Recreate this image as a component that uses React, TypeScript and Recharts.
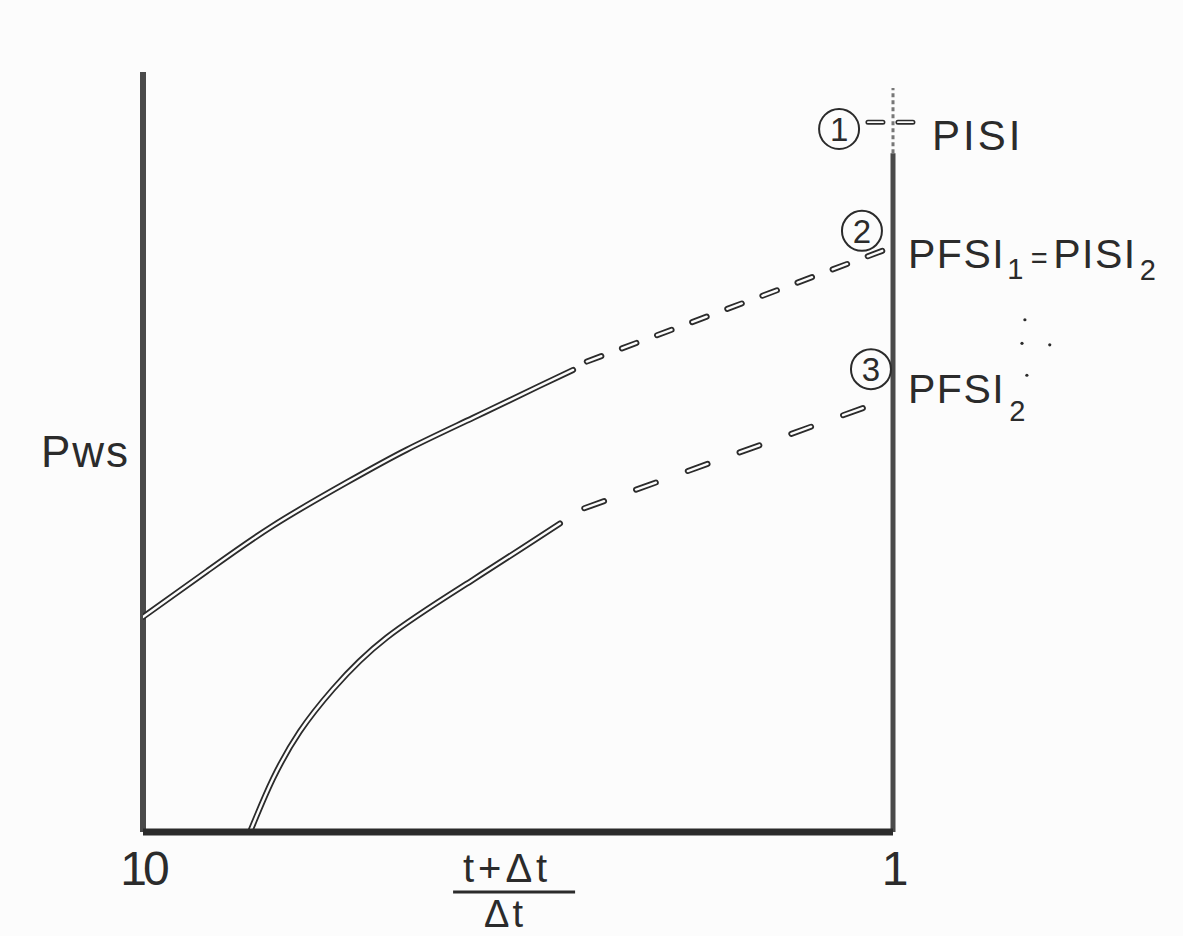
import { LineChart, Line, XAxis, YAxis, ReferenceLine, ReferenceDot } from "recharts";

// Horner plot: Pws against (t+Δt)/Δt on a reversed log axis (10 → 1)
const xTicks = [10, 1];

const upperRatio = [10, 8.22, 6.71, 5.35, 4.45, 3.63, 2.96, 2.67];
const upperPws = [28.3, 34.3, 40.3, 46.0, 50.3, 54.5, 58.7, 60.8];

const lowerRatio = [7.2, 6.71, 6.18, 5.58, 4.73, 3.63, 2.78];
const lowerPws = [0, 7.0, 13.2, 18.8, 25.6, 33.2, 40.6];

const upperExtRatio = [2.56, 1];
const upperExtPws = [61.9, 77.0];

const lowerExtRatio = [2.58, 1];
const lowerExtPws = [42.6, 57.2];

// extrapolated pressures read at (t+Δt)/Δt = 1
const PISI = 93.4;
const PFSI1 = 77.0;
const PFSI2 = 57.2;

const markerNames = ["1", "2", "3"];
const markerRatio = [1.18, 1.1, 1.07];
const markerPws = [92.5, 79.1, 60.9];

const ellipsisRatio = [0.667, 0.673, 0.618, 0.663];
const ellipsisPws = [67.4, 64.3, 64.1, 60.1];

const toRows = (xs: number[], ys: number[]) => xs.map((x, i) => ({ x, p: ys[i] }));

const upper = toRows(upperRatio, upperPws);
const lower = toRows(lowerRatio, lowerPws);
const upperExt = toRows(upperExtRatio, upperExtPws);
const lowerExt = toRows(lowerExtRatio, lowerExtPws);

const INK = "#2b2b2b";
const PAPER = "#fcfcfc";
const FONT = "'Liberation Sans', Arial, sans-serif";

function HollowLine({ data, dash }: { data: { x: number; p: number }[]; dash?: string }) {
  return [
    <Line
      key="o"
      data={data}
      dataKey="p"
      type="natural"
      stroke={INK}
      strokeWidth={6}
      strokeLinecap="round"
      strokeDasharray={dash}
      dot={false}
      activeDot={false}
      isAnimationActive={false}
    />,
    <Line
      key="i"
      data={data}
      dataKey="p"
      type="natural"
      stroke={PAPER}
      strokeWidth={2.4}
      strokeLinecap="round"
      strokeDasharray={dash}
      dot={false}
      activeDot={false}
      isAnimationActive={false}
    />,
  ];
}

const XTick = (props: any) => {
  const { x, y, payload } = props;
  return (
    <text x={x} y={y + 45} textAnchor="middle" fontSize={48} letterSpacing={-4} fill={INK} fontFamily={FONT}>
      {payload.value}
    </text>
  );
};

export default function App() {
  return (
    <div style={{ position: "absolute", left: 0, top: 0, width: 1183, height: 936, background: PAPER }}>
      <LineChart width={1183} height={936} margin={{ top: 72, right: 290, bottom: 0, left: 143 }}>
        <XAxis
          dataKey="x"
          type="number"
          scale="log"
          domain={[1, 10]}
          reversed
          allowDataOverflow
          ticks={xTicks}
          interval={0}
          tickLine={false}
          axisLine={{ stroke: INK, strokeWidth: 7 }}
          tick={XTick}
          height={104}
        />
        <YAxis hide type="number" domain={[0, 100]} allowDataOverflow />

        {/* frame */}
        <ReferenceLine x={10} stroke="#4a4a4a" strokeWidth={6} />
        <ReferenceLine
          segment={[{ x: 1, y: 0 }, { x: 1, y: 89.3 }]}
          stroke="#4a4a4a"
          strokeWidth={5}
          ifOverflow="visible"
        />
        <ReferenceLine
          segment={[{ x: 1, y: 89.3 }, { x: 1, y: 97.9 }]}
          stroke="#777"
          strokeWidth={3}
          strokeDasharray="4 3"
          ifOverflow="visible"
        />
        <ReferenceLine
          segment={[{ x: 10, y: 0 }, { x: 1, y: 0 }]}
          stroke={PAPER}
          strokeWidth={2.2}
          ifOverflow="visible"
        />

        {HollowLine({ data: upper })}
        {HollowLine({ data: lower })}
        {HollowLine({ data: upperExt, dash: "15.5 22" })}
        {HollowLine({ data: lowerExt, dash: "21 34" })}

        {/* PISI tick marks across the axis */}
        <ReferenceLine
          segment={[{ x: 1.08, y: PISI }, { x: 0.929, y: PISI }]}
          stroke={INK}
          strokeWidth={5}
          strokeLinecap="round"
          strokeDasharray="15 15"
          ifOverflow="visible"
        />
        <ReferenceLine
          segment={[{ x: 1.08, y: PISI }, { x: 0.929, y: PISI }]}
          stroke={PAPER}
          strokeWidth={1.8}
          strokeLinecap="round"
          strokeDasharray="15 15"
          ifOverflow="visible"
        />

        {markerNames.map((n, i) => (
          <ReferenceDot
            key={n}
            x={markerRatio[i]}
            y={markerPws[i]}
            ifOverflow="visible"
            shape={(p: any) => (
              <g>
                <circle cx={p.cx} cy={p.cy} r={20} fill="none" stroke={INK} strokeWidth={2} />
                <text x={p.cx} y={p.cy + 12} textAnchor="middle" fontSize={33} fill={INK} fontFamily={FONT}>
                  {n}
                </text>
              </g>
            )}
          />
        ))}

        <ReferenceDot
          x={1}
          y={PISI}
          ifOverflow="visible"
          shape={(p: any) => (
            <text x={p.cx + 39} y={p.cy + 28} fontSize={42} letterSpacing={3} fill={INK} fontFamily={FONT}>
              PISI
            </text>
          )}
        />
        <ReferenceDot
          x={1}
          y={PFSI1}
          ifOverflow="visible"
          shape={(p: any) => (
            <text x={p.cx + 15} y={p.cy + 21} fontSize={41} letterSpacing={1.5} fill={INK} fontFamily={FONT}>
              PFSI
              <tspan fontSize={29} dy={11} dx={2}>1</tspan>
              <tspan fontSize={29} dy={-11} dx={6}>=</tspan>
              <tspan dx={4}>PISI</tspan>
              <tspan fontSize={29} dy={12} dx={3}>2</tspan>
            </text>
          )}
        />
        <ReferenceDot
          x={1}
          y={PFSI2}
          ifOverflow="visible"
          shape={(p: any) => (
            <text x={p.cx + 15} y={p.cy + 6} fontSize={41} letterSpacing={1.5} fill={INK} fontFamily={FONT}>
              PFSI
              <tspan fontSize={29} dy={18} dx={4}>2</tspan>
            </text>
          )}
        />

        {ellipsisRatio.map((r, i) => (
          <ReferenceDot key={"e" + i} x={r} y={ellipsisPws[i]} r={1.6} fill={INK} stroke="none" ifOverflow="visible" />
        ))}

        {/* y label */}
        <ReferenceDot
          x={10}
          y={50.1}
          ifOverflow="visible"
          shape={(p: any) => (
            <text x={p.cx - 13} y={p.cy + 16} textAnchor="end" fontSize={44} letterSpacing={2} fill={INK} fontFamily={FONT}>
              Pws
            </text>
          )}
        />

        {/* x label as a fraction */}
        <ReferenceDot
          x={3.27}
          y={0}
          ifOverflow="visible"
          shape={(p: any) => (
            <g fill={INK} fontFamily={FONT}>
              <text x={p.cx} y={p.cy + 50} textAnchor="middle" fontSize={40} letterSpacing={4}>
                t+Δt
              </text>
              <line x1={p.cx - 54} x2={p.cx + 68} y1={p.cy + 60} y2={p.cy + 60} stroke={INK} strokeWidth={3} />
              <text x={p.cx - 2} y={p.cy + 95} textAnchor="middle" fontSize={38} letterSpacing={3}>
                Δt
              </text>
            </g>
          )}
        />
      </LineChart>
    </div>
  );
}
